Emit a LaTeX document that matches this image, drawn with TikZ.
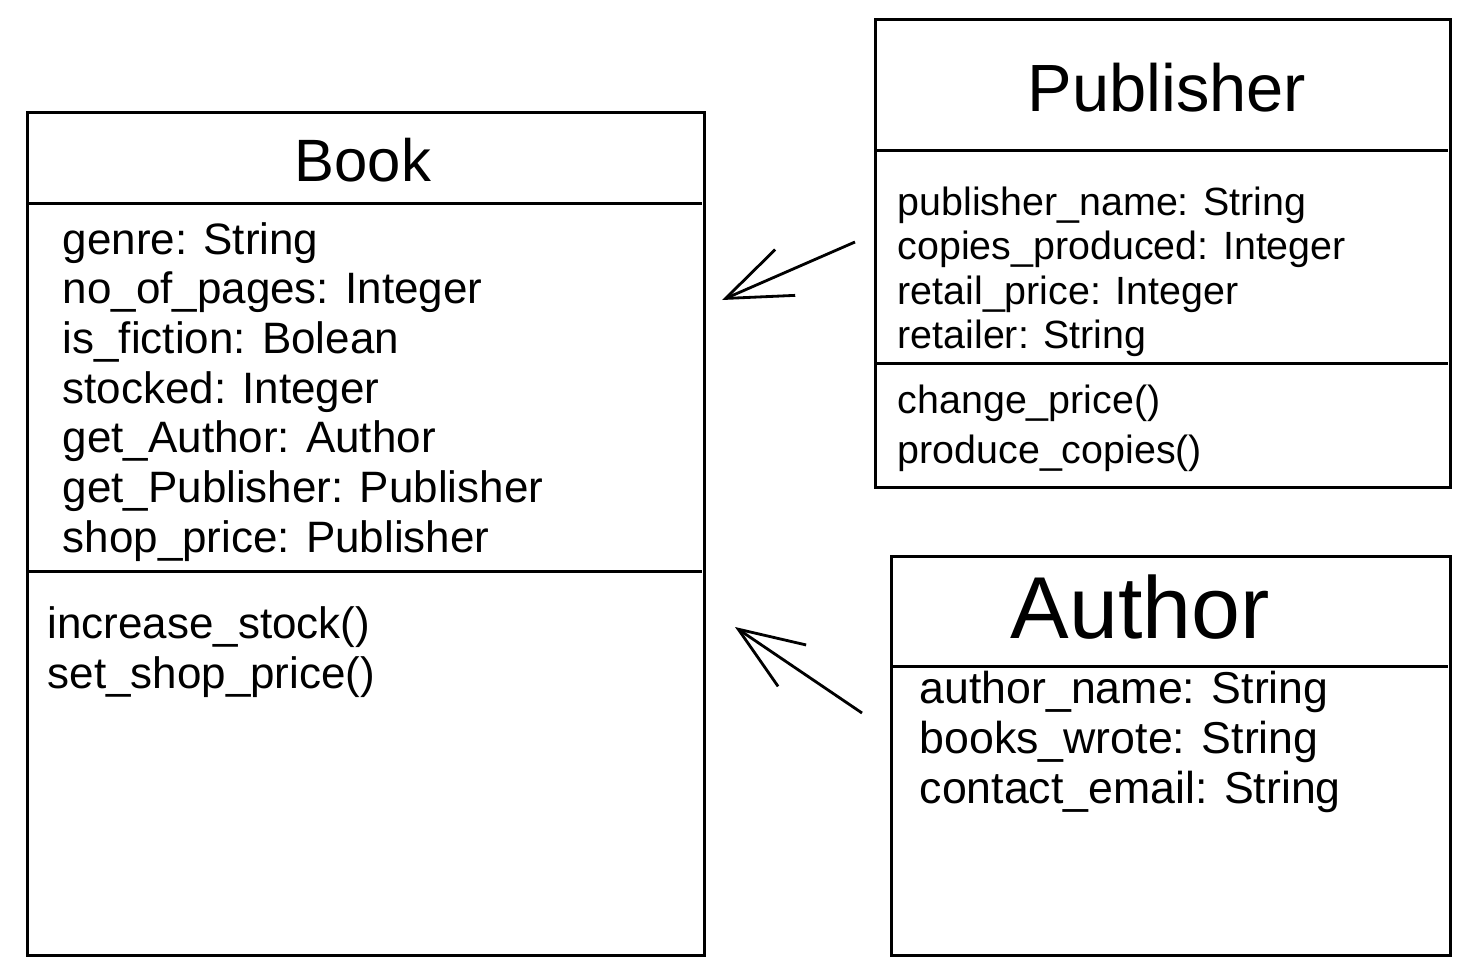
\documentclass[tikz,border=0pt]{standalone}
\usepackage{fontspec}
\setmainfont{Liberation Sans}
\usetikzlibrary{arrows.meta}
\tikzset{
	classbox/.style={draw, line width=0.9pt, rectangle, inner sep=0pt},
	divider/.style={line width=0.9pt},
	title/.style={inner sep=0pt},
	attr/.style={anchor=west, inner sep=0pt, text height=1.6ex, text depth=.4ex},
	assoc/.style={line width=0.8pt, -{Straight Barb[length=6.5mm, width=5mm]}},
}

\begin{document}
\begin{tikzpicture}[x=0.01cm, y=-0.01cm]
	\useasboundingbox (0,0) rectangle (1473,976);
	% class boxes
	\node[classbox, minimum width=6.76cm, minimum height=8.42cm] (book) at (366,534) {};
	\node[classbox, minimum width=5.74cm, minimum height=4.67cm] (publisher) at (1163,253.5) {};
	\node[classbox, minimum width=5.58cm, minimum height=3.98cm] (author) at (1171,756) {};
	\draw[divider] (book.north west) ++(0,92) -- ++(676,0);
	\draw[divider] (book.north west) ++(0,460) -- ++(676,0);
	\draw[divider] (publisher.north west) ++(0,132) -- ++(574,0);
	\draw[divider] (publisher.north west) ++(0,345) -- ++(574,0);
	\draw[divider] (author.north west) ++(0,111) -- ++(558,0);
	% titles
	\node[title, font=\fontsize{17}{20}\selectfont] (booktitle) at (363,160) {Book};
	\node[title, font=\fontsize{19}{22}\selectfont] (pubtitle) at (1167,88) {Publisher};
	\node[title, font=\fontsize{25}{28}\selectfont] (authtitle) at (1140,607) {Author};
	% Book
	\foreach \t [count=\i] in {genre: String, no\_of\_pages: Integer, is\_fiction: Bolean, stocked: Integer, get\_Author: Author, get\_Publisher: Publisher, shop\_price: Publisher}
	\node[attr, font=\fontsize{12.5}{15}\selectfont] (bookattr\i) at (62,{243+49.7*(\i-1)}) {\t};
	\foreach \t [count=\i] in {increase\_stock(), set\_shop\_price()}
	\node[attr, font=\fontsize{12.5}{15}\selectfont] (bookop\i) at (47,{627+50*(\i-1)}) {\t};
	% Publisher
	\foreach \t [count=\i] in {publisher\_name: String, copies\_produced: Integer, retail\_price: Integer, retailer: String}
	\node[attr, font=\fontsize{11.2}{13}\selectfont] (pubattr\i) at (897,{204+44.5*(\i-1)}) {\t};
	\foreach \t [count=\i] in {change\_price(), produce\_copies()}
	\node[attr, font=\fontsize{11.2}{13}\selectfont] (pubop\i) at (897,{402+50*(\i-1)}) {\t};
	% Author
	\foreach \t [count=\i] in {author\_name: String, books\_wrote: String, contact\_email: String}
	\node[attr, font=\fontsize{12.7}{15}\selectfont] (authattr\i) at (919,{692+50*(\i-1)}) {\t};
	% associations
	\coordinate (pubtail) at (855,242);
	\coordinate (pubhead) at (722,300);
	\coordinate (authtail) at (862,713);
	\coordinate (authhead) at (735,627);
	\draw[assoc] (pubtail) -- (pubhead);
	\draw[assoc] (authtail) -- (authhead);
\end{tikzpicture}
\end{document}
